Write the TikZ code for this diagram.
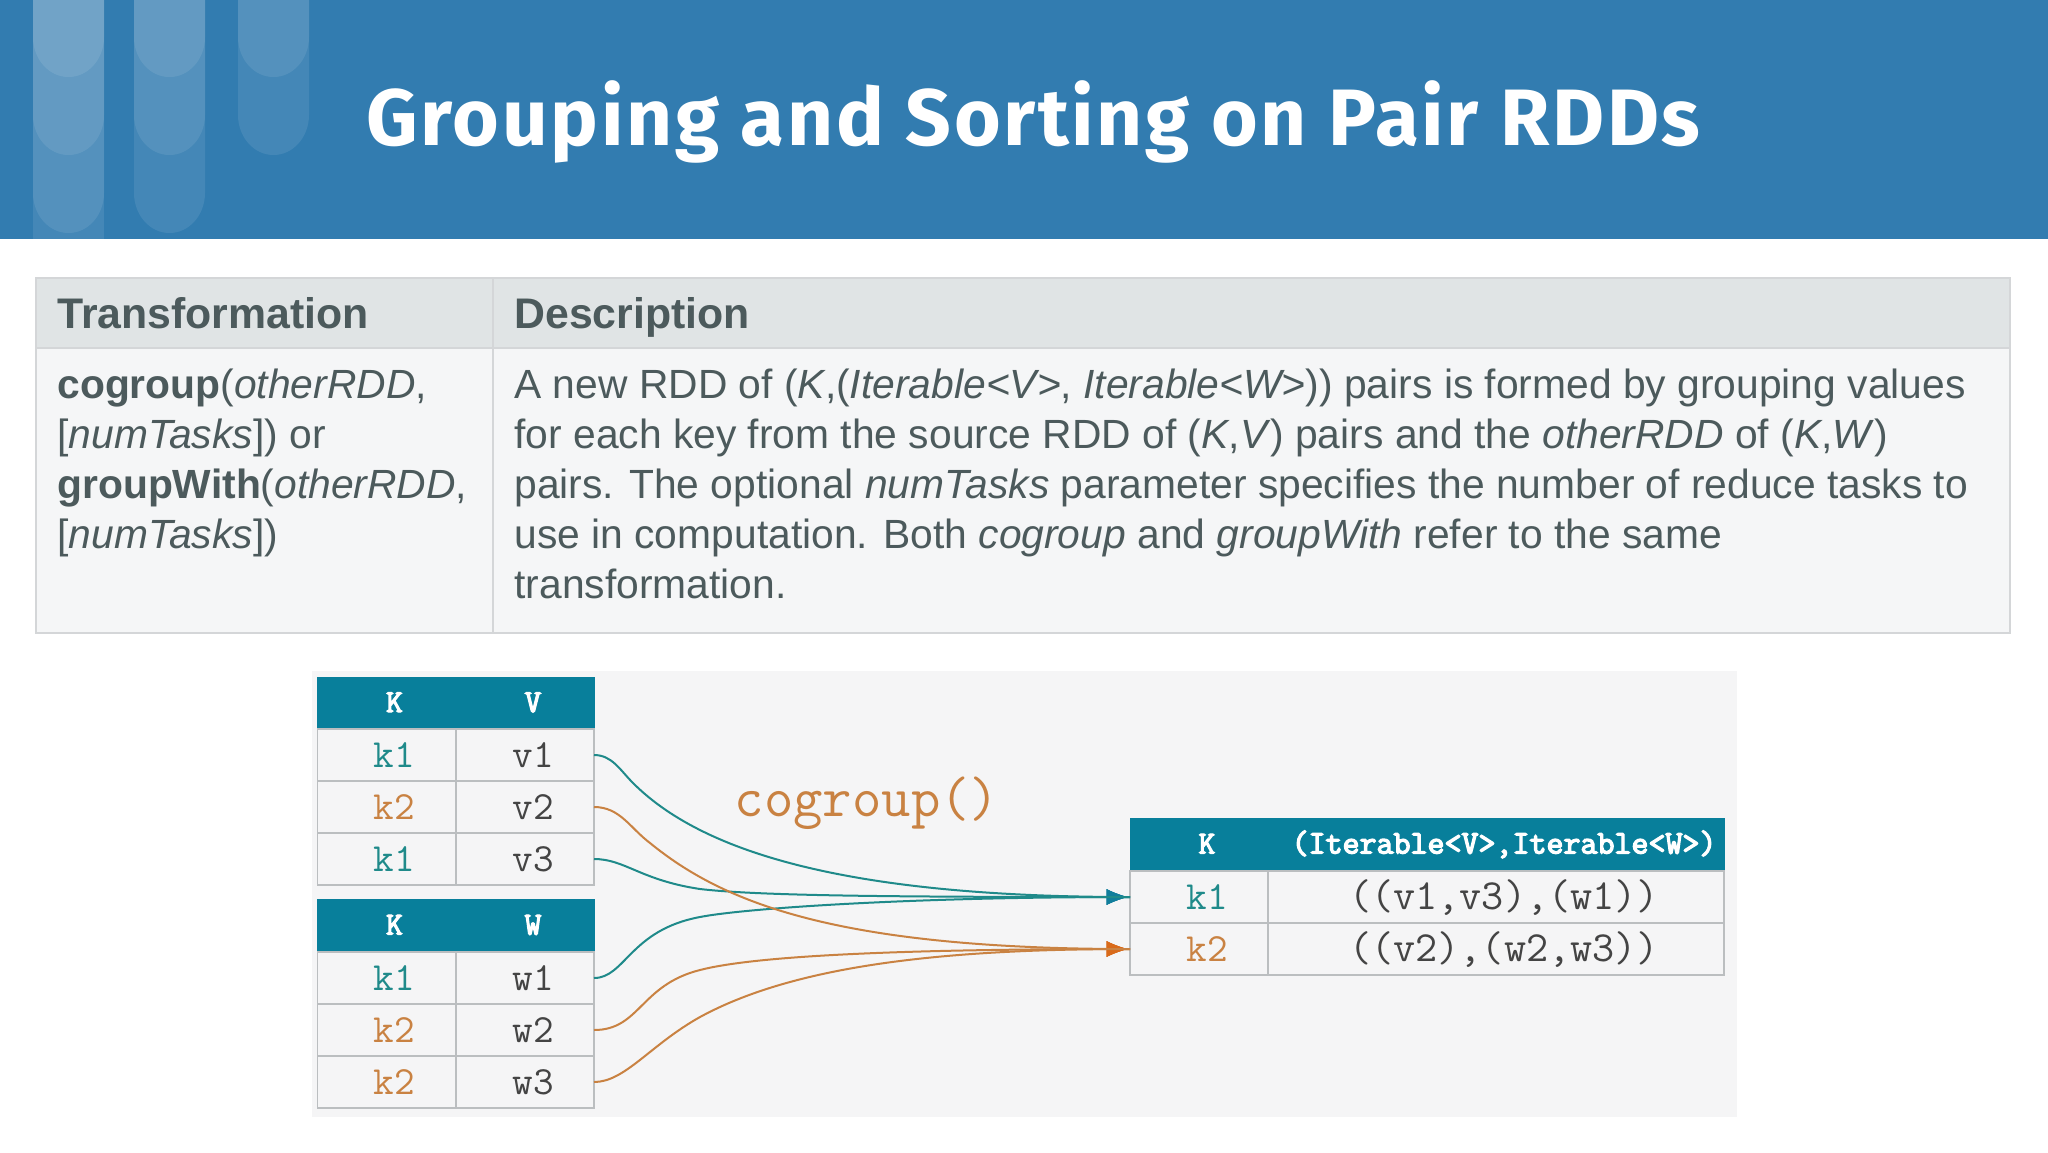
\documentclass[tikz,border=0pt]{standalone}
\usepackage{fontspec}
\setmainfont{Liberation Sans}
\setmonofont[AutoFakeBold=4]{Latin Modern Mono}
\newfontfamily\titlefont[LetterSpace=3.3]{Fira Sans}
\usetikzlibrary{arrows.meta, decorations.markings}
\definecolor{Banner}{HTML}{327CB0}
\definecolor{TableText}{HTML}{4C5A5C}
\definecolor{TableHead}{HTML}{E0E4E5}
\definecolor{TableBody}{HTML}{F5F6F7}
\definecolor{TableRule}{HTML}{D4D6D8}
\definecolor{Panel}{HTML}{F5F5F6}
\definecolor{CellHead}{HTML}{087F9B}
\definecolor{CellRule}{HTML}{BBBEC0}
\definecolor{CellText}{HTML}{444444}
\definecolor{TealKey}{HTML}{1F8A8A}
\definecolor{OrangeKey}{HTML}{C98242}
\definecolor{TealTip}{HTML}{117E9C}
\definecolor{OrangeTip}{HTML}{D96A1A}
\tikzset{
Flow/.style = {
%Curve with its tip drawn on top:
line width = 1pt, draw = #1Key,
decoration={
markings,
mark=at position 1 with {
\arrow{Latex[length=12pt,width=9pt,color=#1Tip]}
}
},
preaction = {decorate}
}
}

\begin{document}
\begin{tikzpicture}[
		x = 0.5pt, y = -0.5pt,
		head/.style = {rectangle, draw = CellHead, fill = CellHead, text = white, inner sep = 0pt, outer sep = 0pt, minimum height = 26pt, text height = 9pt, text depth = 0pt, font = \ttfamily\bfseries\fontsize{16pt}{16pt}\selectfont, execute at begin node = {\hspace*{8pt}}},
		cell/.style = {rectangle, draw = CellRule, fill = Panel, text = CellText, line width = 0.8pt, inner sep = 0pt, outer sep = 0pt, minimum height = 26pt, text height = 12pt, text depth = 0pt, font = \ttfamily\fontsize{20pt}{20pt}\selectfont, execute at begin node = {\hspace*{8pt}}},
		tabletext/.style = {anchor = north west, inner sep = 0pt, align = left, text = TableText, font = \fontsize{20.4pt}{25pt}\selectfont},
		tablehead/.style = {anchor = base west, inner sep = 0pt, text = TableText, font = \bfseries\fontsize{21.4pt}{25pt}\selectfont},
		keycol/.style = {minimum width = 69pt},
		valcol/.style = {minimum width = 69pt},
		widecol/.style = {minimum width = 228pt},
	]
	\useasboundingbox (0,0) rectangle (2048,1152);

	\fill[Banner] (0,0) rectangle (2048,239);
	\fill[white, opacity = 0.09] (33,0) rectangle (104,239);
	\foreach \xl/\yb in {33/77, 33/155, 33/233, 134/77, 134/155, 134/233, 238/77, 238/155}
		\fill[white, opacity = 0.09] (\xl,0) -- (\xl,\yb-40) arc[x radius = 35.5, y radius = 40, start angle = 180, end angle = 0] -- (\xl+71,0) -- cycle;
	\node[anchor = base west, inner sep = 0pt, text = white, font = \titlefont\bfseries\fontsize{40pt}{40pt}\selectfont](Title) at (366,145){Grouping and Sorting on Pair RDDs};

	\fill[TableHead] (36,278) rectangle (2010,348);
	\fill[TableBody] (36,348) rectangle (2010,633);
	\draw[TableRule, line width = 1pt] (36,278) rectangle (2010,633);
	\draw[TableRule, line width = 1pt] (36,348) -- (2010,348);
	\draw[TableRule, line width = 1pt] (493,278) -- (493,633);
	\node[tablehead](HeadT) at (57,328){Transformation};
	\node[tablehead](HeadD) at (514,328){Description};
	\node[tabletext](BodyT) at (57,369){\textbf{cogroup}(\textit{otherRDD},\\{}[\textit{numTasks}]) or\\\textbf{groupWith}(\textit{otherRDD},\\{}[\textit{numTasks}])};
	\node[tabletext](BodyD) at (514,369){A new RDD of (\textit{K},(\textit{Iterable<V>}, \textit{Iterable<W>})) pairs is formed by grouping values\\for each key from the source RDD of (\textit{K},\textit{V}) pairs and the \textit{otherRDD} of (\textit{K},\textit{W})\\pairs. The optional \textit{numTasks} parameter specifies the number of reduce tasks to\\use in computation. Both \textit{cogroup} and \textit{groupWith} refer to the same\\transformation.};

	\fill[Panel] (312,671) rectangle (1737,1117);

	\node[head, keycol](AK) at (386.5,703){K};
	\node[head, valcol](AV) at (525,703){V};
	\node[cell, keycol, text = TealKey](AK1) at (386.5,755){k1};
	\node[cell, valcol](AV1) at (525,755){v1};
	\node[cell, keycol, text = OrangeKey](AK2) at (386.5,807){k2};
	\node[cell, valcol](AV2) at (525,807){v2};
	\node[cell, keycol, text = TealKey](AK3) at (386.5,859){k1};
	\node[cell, valcol](AV3) at (525,859){v3};

	\node[head, keycol](BK) at (386.5,925.5){K};
	\node[head, valcol](BW) at (525,925.5){W};
	\node[cell, keycol, text = TealKey](BK1) at (386.5,978){k1};
	\node[cell, valcol](BW1) at (525,978){w1};
	\node[cell, keycol, text = OrangeKey](BK2) at (386.5,1030){k2};
	\node[cell, valcol](BW2) at (525,1030){w2};
	\node[cell, keycol, text = OrangeKey](BK3) at (386.5,1082){k2};
	\node[cell, valcol](BW3) at (525,1082){w3};

	\node[head, keycol](CK) at (1199,844.5){K};
	\node[head, widecol, font = \ttfamily\bfseries\fontsize{16.5pt}{16pt}\selectfont](CV) at (1496,844.5){(Iterable<V>,Iterable<W>)};
	\node[cell, keycol, text = TealKey](CK1) at (1199,897){k1};
	\node[cell, widecol, font = \ttfamily\fontsize{21.5pt}{20pt}\selectfont](CV1) at (1496,897){((v1,v3),(w1))};
	\node[cell, keycol, text = OrangeKey](CK2) at (1199,949){k2};
	\node[cell, widecol, font = \ttfamily\fontsize{21.5pt}{20pt}\selectfont](CV2) at (1496,949){((v2),(w2,w3))};

	\node[anchor = base, inner sep = 0pt, text = OrangeKey, font = \ttfamily\fontsize{28.5pt}{27pt}\selectfont](Op) at (867,816){cogroup()};

	\draw[Flow = Teal](AV1.east) .. controls (612,755) and (620,770) .. (633,783) .. controls (700,850) and (840,897) .. (CK1.west);
	\draw[Flow = Teal](AV3.east) .. controls (625,859) and (640,880) .. (700,889) .. controls (760,896) and (900,897) .. (CK1.west);
	\draw[Flow = Teal](BW1.east) .. controls (625,978) and (630,930) .. (700,917) .. controls (740,909) and (900,897) .. (CK1.west);
	\draw[Flow = Orange](AV2.east) .. controls (620,807) and (630,828) .. (650,843) .. controls (720,900) and (830,949) .. (CK2.west);
	\draw[Flow = Orange](BW2.east) .. controls (640,1030) and (640,985) .. (700,970) .. controls (750,957) and (880,949) .. (CK2.west);
	\draw[Flow = Orange](BW3.east) .. controls (625,1082) and (650,1045) .. (700,1017) .. controls (790,968) and (930,949) .. (CK2.west);

\end{tikzpicture}
\end{document}
